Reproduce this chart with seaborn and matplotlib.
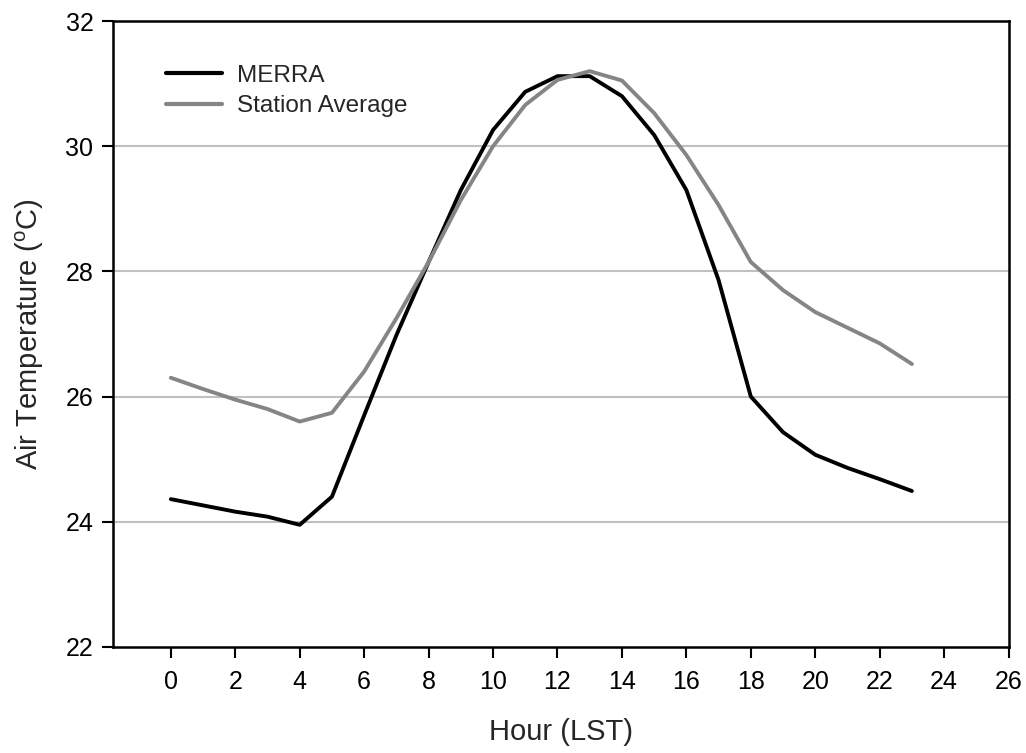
import matplotlib
matplotlib.use("Agg")
import matplotlib.pyplot as plt
import seaborn as sns
import pandas as pd

hours = list(range(24))
merra = [24.36, 24.26, 24.16, 24.08, 23.95, 24.40, 25.70, 26.98, 28.15, 29.30,
         30.26, 30.87, 31.12, 31.12, 30.80, 30.18, 29.30, 27.86, 26.00, 25.43,
         25.07, 24.86, 24.68, 24.49]
station = [26.30, 26.12, 25.95, 25.80, 25.60, 25.74, 26.40, 27.25, 28.15, 29.14,
           30.00, 30.66, 31.06, 31.20, 31.05, 30.53, 29.86, 29.06, 28.15, 27.70,
           27.35, 27.10, 26.85, 26.52]
series_names = ["MERRA", "Station Average"]
x_ticks = list(range(0, 27, 2))
y_ticks = [22, 24, 26, 28, 30, 32]

df = pd.DataFrame({
    "Hour": hours * 2,
    "Temp": merra + station,
    "Series": [series_names[0]] * 24 + [series_names[1]] * 24,
})

sns.set_theme(style="white")
plt.rcParams["font.family"] = ["Liberation Sans", "DejaVu Sans"]

fig = plt.figure(figsize=(10.26, 7.53), dpi=100)
ax = fig.add_axes([0.110, 0.141, 0.873, 0.831])

for y in y_ticks[1:-1]:
    ax.axhline(y, color="#c0c0c0", lw=1.5, zorder=0)

sns.lineplot(data=df, x="Hour", y="Temp", hue="Series",
             palette={"MERRA": "#000000", "Station Average": "#858585"},
             linewidth=2.8, ax=ax, legend=True)

ax.set_xlim(-1.8, 26)
ax.set_ylim(22, 32)
ax.set_xticks(x_ticks, [str(v) for v in x_ticks], fontsize=18)
ax.set_yticks(y_ticks, [str(v) for v in y_ticks], fontsize=18)
ax.tick_params(axis="both", which="major", direction="out", length=8, width=1.5,
               colors="black", left=True, bottom=True)
ax.tick_params(axis="x", pad=9)
ax.tick_params(axis="y", pad=6)
for s in ax.spines.values():
    s.set_color("black")
    s.set_linewidth(1.8)

ax.set_xlabel("Hour (LST)", fontsize=21, labelpad=17)
ax.set_ylabel("Air Temperature ($^{\\mathregular{o}}$C)", fontsize=21, labelpad=14)

leg = ax.legend(loc="upper left", bbox_to_anchor=(0.035, 0.965), frameon=False,
                fontsize=17.5, handlelength=2.3, handletextpad=0.6, labelspacing=0.35)
for line in leg.get_lines():
    line.set_linewidth(3)

fig.savefig("out.png", dpi=100)
